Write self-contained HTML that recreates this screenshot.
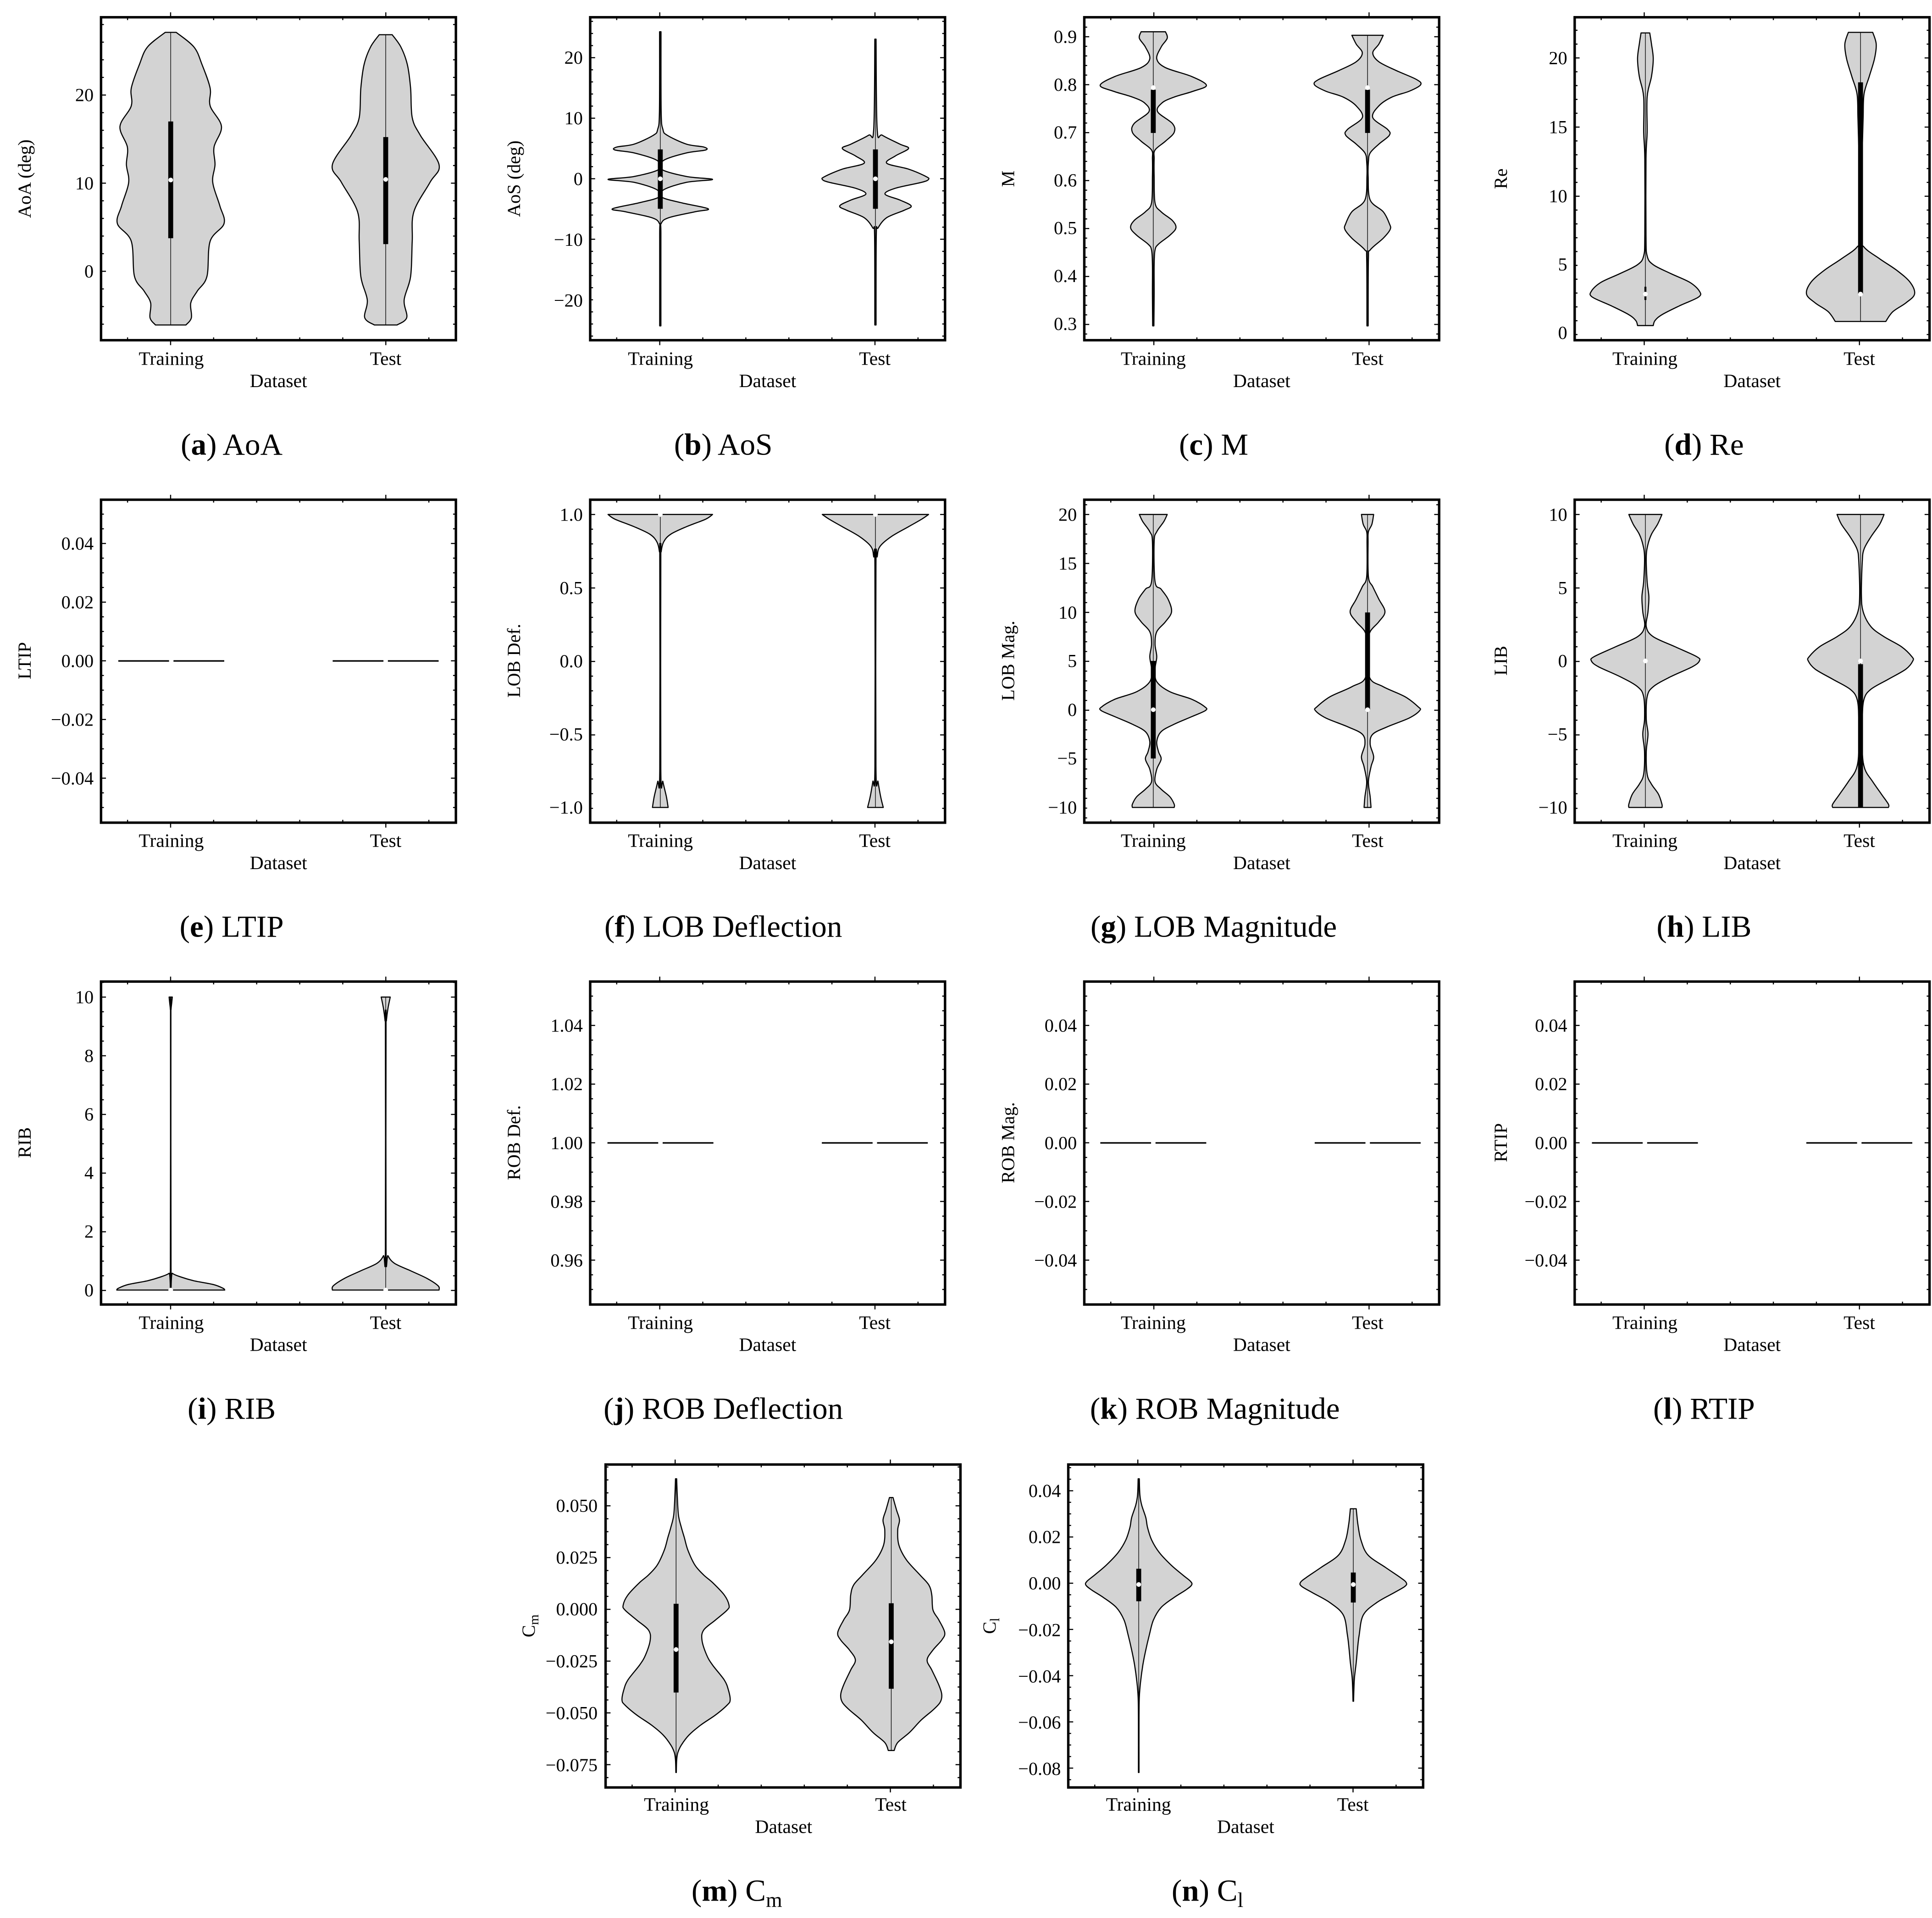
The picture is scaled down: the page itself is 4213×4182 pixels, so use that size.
<!DOCTYPE html>
<html><head><meta charset="utf-8"><style>
html,body{margin:0;padding:0;background:#fff;}
svg{display:block;}
text{font-family:"Liberation Serif",serif;fill:#000;}
.ty{font-size:15px;text-anchor:end;}
.tx{font-size:15.5px;text-anchor:middle;}
.yl{font-size:15px;text-anchor:middle;}
.cap{font-size:25px;text-anchor:middle;}
</style></head><body>
<svg id="s" width="4213" height="4182" viewBox="0 0 1568 1556" preserveAspectRatio="none" xmlns="http://www.w3.org/2000/svg">
<rect x="0" y="0" width="1568" height="1556" fill="#fff"/>
<g id="g"></g>
<g>
<text class="ty" x="76" y="82">20</text><text class="ty" x="76" y="153.6">10</text><text class="ty" x="76" y="225.2">0</text>
<text class="ty" x="473" y="51.8">20</text><text class="ty" x="473" y="100.9">10</text><text class="ty" x="473" y="150.1">0</text><text class="ty" x="473" y="199.5">−10</text><text class="ty" x="473" y="248.8">−20</text>
<text class="ty" x="874" y="34.8">0.9</text><text class="ty" x="874" y="73.7">0.8</text><text class="ty" x="874" y="112.4">0.7</text><text class="ty" x="874" y="151.3">0.6</text><text class="ty" x="874" y="189.9">0.5</text><text class="ty" x="874" y="228.8">0.4</text><text class="ty" x="874" y="267.7">0.3</text>
<text class="ty" x="1272" y="52">20</text><text class="ty" x="1272" y="108.1">15</text><text class="ty" x="1272" y="164.1">10</text><text class="ty" x="1272" y="219.5">5</text><text class="ty" x="1272" y="274.9">0</text>
<text class="yl" transform="translate(25,145) rotate(-90)">AoA (deg)</text>
<text class="yl" transform="translate(422,145) rotate(-90)">AoS (deg)</text>
<text class="yl" transform="translate(823,145) rotate(-90)">M</text>
<text class="yl" transform="translate(1223,145) rotate(-90)">Re</text>
<text class="tx" x="139" y="296">Training</text><text class="tx" x="313" y="296">Test</text><text class="tx" x="226" y="314">Dataset</text>
<text class="tx" x="536" y="296">Training</text><text class="tx" x="710" y="296">Test</text><text class="tx" x="623" y="314">Dataset</text>
<text class="tx" x="936" y="296">Training</text><text class="tx" x="1110" y="296">Test</text><text class="tx" x="1024" y="314">Dataset</text>
<text class="tx" x="1335" y="296">Training</text><text class="tx" x="1509" y="296">Test</text><text class="tx" x="1422" y="314">Dataset</text>
<text class="cap" x="188" y="369">(<tspan font-weight="bold">a</tspan>) AoA</text>
<text class="cap" x="587" y="369">(<tspan font-weight="bold">b</tspan>) AoS</text>
<text class="cap" x="985" y="369">(<tspan font-weight="bold">c</tspan>) M</text>
<text class="cap" x="1383" y="369">(<tspan font-weight="bold">d</tspan>) Re</text>
</g>
<g>
<text class="ty" x="76" y="445.9">0.04</text><text class="ty" x="76" y="493.5">0.02</text><text class="ty" x="76" y="541.2">0.00</text><text class="ty" x="76" y="588.8">−0.02</text><text class="ty" x="76" y="636.4">−0.04</text>
<text class="ty" x="473" y="422.4">1.0</text><text class="ty" x="473" y="482">0.5</text><text class="ty" x="473" y="541.4">0.0</text><text class="ty" x="473" y="600.8">−0.5</text><text class="ty" x="473" y="660">−1.0</text>
<text class="ty" x="874" y="422.4">20</text><text class="ty" x="874" y="462.1">15</text><text class="ty" x="874" y="501.9">10</text><text class="ty" x="874" y="541.2">5</text><text class="ty" x="874" y="580.8">0</text><text class="ty" x="874" y="620.3">−5</text><text class="ty" x="874" y="660">−10</text>
<text class="ty" x="1272" y="422.4">10</text><text class="ty" x="1272" y="482">5</text><text class="ty" x="1272" y="541.2">0</text><text class="ty" x="1272" y="600.8">−5</text><text class="ty" x="1272" y="660">−10</text>
<text class="yl" transform="translate(25,536) rotate(-90)">LTIP</text>
<text class="yl" transform="translate(422,536) rotate(-90)">LOB Def.</text>
<text class="yl" transform="translate(823,536) rotate(-90)">LOB Mag.</text>
<text class="yl" transform="translate(1223,536) rotate(-90)">LIB</text>
<text class="tx" x="139" y="687">Training</text><text class="tx" x="313" y="687">Test</text><text class="tx" x="226" y="705">Dataset</text>
<text class="tx" x="536" y="687">Training</text><text class="tx" x="710" y="687">Test</text><text class="tx" x="623" y="705">Dataset</text>
<text class="tx" x="936" y="687">Training</text><text class="tx" x="1110" y="687">Test</text><text class="tx" x="1024" y="705">Dataset</text>
<text class="tx" x="1335" y="687">Training</text><text class="tx" x="1509" y="687">Test</text><text class="tx" x="1422" y="705">Dataset</text>
<text class="cap" x="188" y="760">(<tspan font-weight="bold">e</tspan>) LTIP</text>
<text class="cap" x="587" y="760">(<tspan font-weight="bold">f</tspan>) LOB Deflection</text>
<text class="cap" x="985" y="760">(<tspan font-weight="bold">g</tspan>) LOB Magnitude</text>
<text class="cap" x="1383" y="760">(<tspan font-weight="bold">h</tspan>) LIB</text>
</g>
<g>
<text class="ty" x="76" y="813.9">10</text><text class="ty" x="76" y="861.5">8</text><text class="ty" x="76" y="909">6</text><text class="ty" x="76" y="956.4">4</text><text class="ty" x="76" y="1004.1">2</text><text class="ty" x="76" y="1051.6">0</text>
<text class="ty" x="473" y="836.9">1.04</text><text class="ty" x="473" y="884.5">1.02</text><text class="ty" x="473" y="932.2">1.00</text><text class="ty" x="473" y="979.8">0.98</text><text class="ty" x="473" y="1027.4">0.96</text>
<text class="ty" x="874" y="836.9">0.04</text><text class="ty" x="874" y="884.5">0.02</text><text class="ty" x="874" y="932.2">0.00</text><text class="ty" x="874" y="979.8">−0.02</text><text class="ty" x="874" y="1027.4">−0.04</text>
<text class="ty" x="1272" y="836.9">0.04</text><text class="ty" x="1272" y="884.5">0.02</text><text class="ty" x="1272" y="932.2">0.00</text><text class="ty" x="1272" y="979.8">−0.02</text><text class="ty" x="1272" y="1027.4">−0.04</text>
<text class="yl" transform="translate(25,927) rotate(-90)">RIB</text>
<text class="yl" transform="translate(422,927) rotate(-90)">ROB Def.</text>
<text class="yl" transform="translate(823,927) rotate(-90)">ROB Mag.</text>
<text class="yl" transform="translate(1223,927) rotate(-90)">RTIP</text>
<text class="tx" x="139" y="1078">Training</text><text class="tx" x="313" y="1078">Test</text><text class="tx" x="226" y="1096">Dataset</text>
<text class="tx" x="536" y="1078">Training</text><text class="tx" x="710" y="1078">Test</text><text class="tx" x="623" y="1096">Dataset</text>
<text class="tx" x="936" y="1078">Training</text><text class="tx" x="1110" y="1078">Test</text><text class="tx" x="1024" y="1096">Dataset</text>
<text class="tx" x="1335" y="1078">Training</text><text class="tx" x="1509" y="1078">Test</text><text class="tx" x="1422" y="1096">Dataset</text>
<text class="cap" x="188" y="1151">(<tspan font-weight="bold">i</tspan>) RIB</text>
<text class="cap" x="587" y="1151">(<tspan font-weight="bold">j</tspan>) ROB Deflection</text>
<text class="cap" x="986" y="1151">(<tspan font-weight="bold">k</tspan>) ROB Magnitude</text>
<text class="cap" x="1383" y="1151">(<tspan font-weight="bold">l</tspan>) RTIP</text>
</g>
<g>
<text class="ty" x="485" y="1226.6">0.050</text><text class="ty" x="485" y="1268.6">0.025</text><text class="ty" x="485" y="1310.5">0.000</text><text class="ty" x="485" y="1352.7">−0.025</text><text class="ty" x="485" y="1394.7">−0.050</text><text class="ty" x="485" y="1436.9">−0.075</text>
<text class="ty" x="861" y="1214.4">0.04</text><text class="ty" x="861" y="1251.9">0.02</text><text class="ty" x="861" y="1289.5">0.00</text><text class="ty" x="861" y="1327.4">−0.02</text><text class="ty" x="861" y="1364.9">−0.04</text><text class="ty" x="861" y="1402.4">−0.06</text><text class="ty" x="861" y="1439.9">−0.08</text>
<text class="yl" transform="translate(434,1319) rotate(-90)">C<tspan font-size="11" dy="3">m</tspan></text>
<text class="yl" transform="translate(808,1319) rotate(-90)">C<tspan font-size="11" dy="3">l</tspan></text>
<text class="tx" x="549" y="1469">Training</text><text class="tx" x="723" y="1469">Test</text><text class="tx" x="636" y="1487">Dataset</text>
<text class="tx" x="924" y="1469">Training</text><text class="tx" x="1098" y="1469">Test</text><text class="tx" x="1011" y="1487">Dataset</text>
<text class="cap" x="598" y="1542">(<tspan font-weight="bold">m</tspan>) C<tspan font-size="17" dy="5">m</tspan></text>
<text class="cap" x="980" y="1542">(<tspan font-weight="bold">n</tspan>) C<tspan font-size="17" dy="5">l</tspan></text>
</g>
</svg>
<script>
(function(){
var G=document.getElementById("g"),out=[];
var Z={z1:[0,0,.2624,.2386],z2:[465.2,0,.7069,.2386],z3:[465.2,390.8,.7069,.2028],z4:[0,781.5,.2624,.2028],z5:[428,1172.3,.4771,.2028]};
function cr(p){var d="";for(var i=0;i<p.length-1;i++){var p0=p[i>0?i-1:i],p1=p[i],p2=p[i+1],p3=p[i+2<p.length?i+2:i+1];
var c1x=p1[0]+(p2[0]-p0[0])/6,c1y=p1[1]+(p2[1]-p0[1])/6,c2x=p2[0]-(p3[0]-p1[0])/6,c2y=p2[1]-(p3[1]-p1[1])/6;
d+=" C"+c1x.toFixed(2)+","+c1y.toFixed(2)+" "+c2x.toFixed(2)+","+c2y.toFixed(2)+" "+p2[0].toFixed(2)+","+p2[1].toFixed(2);}return d;}
function V(zk,cx,prof,box,dot,bw){var z=Z[zk],ox=z[0],oy=z[1],sx=z[2],sy=z[3];var X=ox+cx*sx;
var R=prof.map(function(q){var hw=Math.max((q[1]-cx)*sx,0.12);return [X+hw,oy+q[0]*sy];});
var L=prof.map(function(q){var hw=Math.max((q[1]-cx)*sx,0.12);return [X-hw,oy+q[0]*sy];}).reverse();
var d="M"+L[L.length-1][0].toFixed(2)+","+R[0][1].toFixed(2)+" L"+R[0][0].toFixed(2)+","+R[0][1].toFixed(2)+cr(R)+" L"+L[0][0].toFixed(2)+","+L[0][1].toFixed(2)+cr(L)+" Z";
out.push('<path d="'+d+'" fill="#d3d3d3" stroke="#000" stroke-width="0.9" stroke-linejoin="round"/>');
out.push('<line x1="'+X+'" y1="'+(oy+prof[0][0]*sy)+'" x2="'+X+'" y2="'+(oy+prof[prof.length-1][0]*sy)+'" stroke="#000" stroke-width="0.5"/>');
if(box)out.push('<line x1="'+X+'" y1="'+(oy+box[0]*sy)+'" x2="'+X+'" y2="'+(oy+box[1]*sy)+'" stroke="#000" stroke-width="'+(bw||4)+'"/>');
if(dot!=null)out.push('<circle cx="'+X+'" cy="'+(oy+dot*sy)+'" r="1.9" fill="#fff"/>');}
function F(x,y,w,h,maj,nd){var s='';
var st=(maj[1]-maj[0])/nd;var ys=[];var y0=maj[0];while(y0-st>y+0.5)y0-=st;
for(var t=y0;t<y+h-0.5;t+=st)ys.push(t);
ys.forEach(function(t){var isM=maj.some(function(m){return Math.abs(m-t)<0.6;});var l=isM?4:2.3;
s+='<line x1="'+x+'" y1="'+t+'" x2="'+(x+l)+'" y2="'+t+'" stroke="#000" stroke-width="0.9"/>';
s+='<line x1="'+(x+w)+'" y1="'+t+'" x2="'+(x+w-l)+'" y2="'+t+'" stroke="#000" stroke-width="0.9"/>';});
for(var k=-1;k<=6;k++){var fx=x+w*(0.196+0.1213*k);if(fx<=x+1||fx>=x+w-1)continue;
if(k==0||k==5){s+='<line x1="'+fx+'" y1="'+(y-4)+'" x2="'+fx+'" y2="'+y+'" stroke="#000" stroke-width="0.9"/><line x1="'+fx+'" y1="'+(y+h)+'" x2="'+fx+'" y2="'+(y+h+4)+'" stroke="#000" stroke-width="0.9"/>';}
else{s+='<line x1="'+fx+'" y1="'+y+'" x2="'+fx+'" y2="'+(y+2.3)+'" stroke="#000" stroke-width="0.9"/><line x1="'+fx+'" y1="'+(y+h)+'" x2="'+fx+'" y2="'+(y+h-2.3)+'" stroke="#000" stroke-width="0.9"/>';}}
s+='<rect x="'+x+'" y="'+y+'" width="'+w+'" height="'+h+'" fill="none" stroke="#000" stroke-width="2"/>';
out.push(s);}
function FL(cx,y){out.push('<line x1="'+(cx-43)+'" y1="'+y+'" x2="'+(cx+43)+'" y2="'+y+'" stroke="#000" stroke-width="1.2"/><rect x="'+(cx-1.8)+'" y="'+(y-1.5)+'" width="3.6" height="3" fill="#fff"/>');}
var W=288,H=262,XA=82,XB=479,XC=880,XD=1278,Y1=14,Y2=405.4,Y3=796.3,Y4=1188.1;
V("z1",528,[[110,545],[160,600],[220,625],[300,650],[360,650],[430,685],[500,662],[560,665],[620,658],[700,680],[760,693],[820,650],[940,640],[990,610],[1030,590],[1080,592],[1105,575]],[413,810],612);
V("z1",1193,[[118,1213],[160,1240],[220,1260],[300,1270],[400,1275],[460,1300],[560,1358],[620,1330],[720,1280],[820,1275],[940,1270],[1020,1250],[1080,1258],[1105,1228]],[466,830],610);
V("z2",100,[[108,100.8],[380,101],[440,103],[460,108],[490,130],[500,150],[510,152],[520,130],[545,104],[575,101],[600,130],[610,160],[620,130],[645,104],[670,101.5],[690,125],[710,155],[720,140],[740,110],[760,101],[800,100.7],[1108,100.7]],[508,710],608);
V("z2",347,[[133,347.7],[440,349],[460,355],[490,375],[505,385],[530,370],[555,360],[575,385],[600,405],[610,408],[620,400],[640,370],[660,358],[680,375],[700,388],[715,380],[740,360],[775,350],[800,348],[1105,347.7]],[508,710],608);
V("z2",666,[[108,680],[130,682],[160,675],[200,670],[230,680],[260,710],[290,727],[310,712],[330,690],[350,676],[380,671],[420,688],[450,690],[480,680],[510,668],[540,667],[600,667],[690,668],[720,675],[750,688],[775,692],[800,685],[830,672],[850,668],[900,667],[1000,667],[1108,666.7]],[305,452],298);
V("z2",912,[[120,930],[150,925],[180,918],[210,925],[240,945],[270,968],[288,973],[310,960],[330,940],[360,925],[400,918],[440,935],[460,937],[490,925],[520,915],[550,913],[600,912.7],[680,915],[720,930],[760,937],[780,938],[810,930],[850,915],[880,913],[1108,912.7]],[305,452],298);
V("z2",1231,[[112,1236],[150,1238],[200,1240],[260,1238],[330,1233],[450,1233],[540,1231.7],[800,1231.7],[870,1233],[900,1240],[930,1260],[960,1282],[990,1293],[1010,1292],[1040,1270],[1070,1250],[1090,1242],[1107,1240]],[975,1020],1000,1.6);
V("z2",1478,[[110,1492],[150,1496],[200,1494],[260,1488],[320,1482],[400,1481],[500,1480],[530,1479],[800,1479],[840,1482],[880,1500],[920,1520],[960,1535],[1000,1540],[1030,1530],[1060,1515],[1093,1507]],[280,1000],1000);
V("z3",100,[[131,160],[150,152],[180,130],[210,112],[240,104],[280,101],[320,100.6],[1150,100.6],[1200,103],[1260,107],[1303,109]],null,131);
V("z3",347,[[131,408],[150,400],[180,385],[220,365],[260,352],[300,349],[340,347.6],[1140,347.6],[1200,350],[1260,353],[1303,356]],null,131);
V("z3",666,[[131,682],[160,678],[200,670],[240,667],[400,668],[430,675],[470,683],[520,687],[560,680],[600,670],[650,668],[700,670],[750,668],[800,670],[840,685],[870,710],[900,725],[915,726],[940,710],[970,690],[1000,675],[1040,670],[1080,672],[1110,675],[1150,670],[1200,668],[1230,675],[1260,685],[1290,690],[1303,690]],[717,1107],912);
V("z3",912,[[131,919],[170,917],[200,913],[240,912.6],[380,913],[420,918],[470,925],[520,932],[560,925],[600,915],[650,912.6],[780,914],[820,930],[860,955],[900,970],[915,972],[945,960],[980,935],[1010,918],[1050,915],[1100,919],[1140,916],[1200,913],[1260,915],[1303,916]],[523,912],912);
V("z3",1231,[[131,1250],[170,1245],[210,1238],[250,1234],[300,1232],[400,1233],[460,1235],[520,1234],[580,1232],[620,1240],[660,1265],[700,1290],[717,1293],[740,1285],[780,1260],[820,1240],[860,1233],[950,1232],[1010,1234],[1080,1232],[1170,1233],[1210,1238],[1250,1246],[1290,1250],[1303,1250]],null,717);
V("z3",1478,[[131,1505],[170,1500],[220,1490],[270,1482],[320,1480],[450,1479],[520,1481],[580,1490],[620,1505],[660,1525],[700,1537],[717,1538],[750,1530],[790,1510],[830,1490],[870,1482],[950,1480],[1080,1480],[1150,1483],[1200,1492],[1250,1502],[1290,1510],[1303,1510]],[730,1303],717);
V("z4",528,[[135,533],[160,531],[185,529],[220,528.6],[1220,529],[1240,533],[1255,560],[1270,600],[1285,660],[1300,690],[1307,695]],null,1307);
V("z4",1193,[[135,1207],[180,1200],[230,1195],[260,1194],[1140,1194],[1170,1200],[1200,1220],[1230,1270],[1260,1320],[1290,1355],[1307,1358]],null,1307);
V("z5",253,[[135,254],[200,255],[280,257],[330,262],[370,267],[420,273],[480,285],[520,300],[550,315],[600,335],[640,343],[660,340],[700,320],[740,300],[780,297],[840,305],[880,315],[940,335],[980,342],[1020,345],[1040,340],[1080,320],[1120,295],[1160,275],[1200,262],[1230,256],[1260,254],[1310,253.4]],[635,990],818);
V("z5",619,[[210,622],[260,628],[300,633],[340,630],[400,632],[460,645],[520,668],[560,683],[600,688],[660,690],[700,700],[750,710],[780,705],[820,690],[860,680],[900,688],[960,700],[1000,705],[1030,702],[1060,690],[1100,670],[1150,650],[1190,630],[1222,624]],[633,975],787);
V("z5",1040,[[135,1041],[200,1042],[240,1045],[290,1052],[330,1055],[380,1062],[430,1075],[480,1095],[520,1115],[545,1128],[560,1130],[580,1120],[610,1100],[650,1078],[700,1065],[760,1058],[820,1052],[880,1047],[950,1043],[1010,1041],[1100,1040.5],[1310,1040.5]],[495,625],558);
V("z5",1405,[[255,1410],[280,1411],[320,1413],[380,1418],[440,1430],[490,1460],[530,1485],[550,1495],[565,1493],[590,1475],[630,1445],[680,1422],[760,1415],[820,1412],[870,1410],[930,1407],[980,1406],[1025,1405.5]],[510,630],558);
FL(139,536.2);FL(313,536.2);
FL(536,927.2);FL(710,927.2);FL(936,927.2);FL(1110,927.2);FL(1335,927.2);FL(1509,927.2);
F(XA,Y1,W,H,[77.1,148.6,220.2],5);
F(XB,Y1,W,H,[46.8,95.9,145.1,194.5,243.8],5);
F(XC,Y1,W,H,[29.8,68.7,107.4,146.3,184.9,223.8,262.7],5);
F(XD,Y1,W,H,[47,103.1,159.1,214.5,269.9],5);
F(XA,Y2,W,H,[440.9,488.5,536.2,583.8,631.4],4);
F(XB,Y2,W,H,[417.4,477,536.4,595.8,655],5);
F(XC,Y2,W,H,[417.4,457.1,496.9,536.2,575.8,615.3,655],5);
F(XD,Y2,W,H,[417.4,477,536.2,595.8,655],5);
F(XA,Y3,W,H,[808.9,856.5,904,951.4,999.1,1046.6],4);
F(XB,Y3,W,H,[831.9,879.5,927.2,974.8,1022.4],4);
F(XC,Y3,W,H,[831.9,879.5,927.2,974.8,1022.4],4);
F(XD,Y3,W,H,[831.9,879.5,927.2,974.8,1022.4],4);
F(491.5,Y4,W,H,[1221.6,1263.6,1305.5,1347.7,1389.7,1431.9],4);
F(867,Y4,W,H,[1209.4,1246.9,1284.5,1322.4,1359.9,1397.4,1434.9],4);
G.innerHTML=out.join("");
})();
</script>
</body></html>
